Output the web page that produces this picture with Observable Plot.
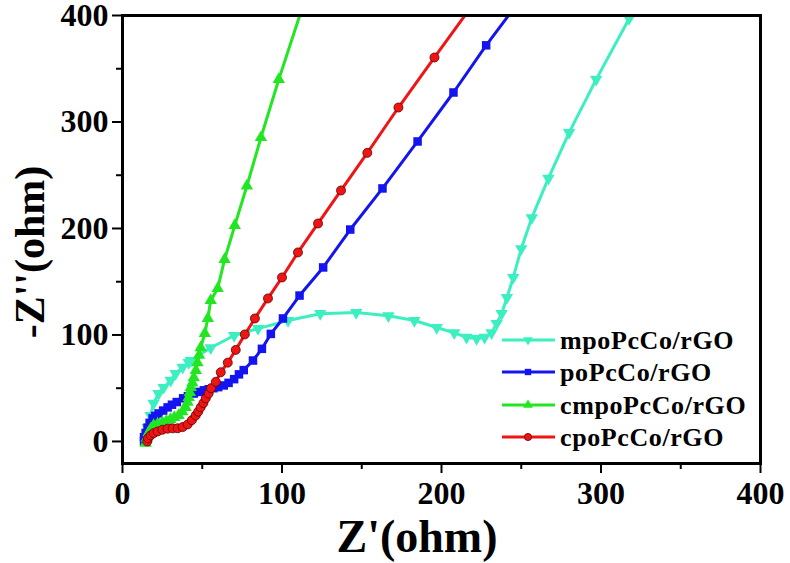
<!DOCTYPE html>
<html><head><meta charset="utf-8">
<script src="https://cdn.jsdelivr.net/npm/d3@7"></script>
<script src="https://cdn.jsdelivr.net/npm/@observablehq/plot@0.6"></script>
<style>body{margin:0;background:#fff} #chart svg{display:block}</style>
</head><body><div id="chart"></div>
<script>
const seriesNames = ["mpoPcCo/rGO", "poPcCo/rGO", "cmpoPcCo/rGO", "cpoPcCo/rGO"];
const seriesColors = ["#3cefc0", "#1414f0", "#22e622", "#f01414"];

const mpoX = [14.5,15.7,17.6,19.5,22.6,25.8,30.2,33.3,37.7,41.5,42.8,55.3,70,85,103.8,124,146.5,166.7,183,197,208,215.7,222,227,231.4,234.6,237.7,241,245,250,256.6,267,280,297,317.6];
const mpoY = [1,13,24.4,35.7,45,50.7,57.3,63.8,69.5,74,76,88,99.5,106,113.6,120,121,118,113.6,107,102,97.7,96.7,97.7,102,110.8,120,135,154,181,210,247,290,340,397];

const poX = [13.5,13.5,14.5,15.7,17,18.9,20.5,22.6,25.5,28.3,31,34,38,41,44.7,48,51,54,57,60,63.5,66.5,70,73,76,81.8,87.4,93,100.6,111,125.8,142.8,163,185,207.5,228,248];
const poY = [0,4,8,13,17.5,21.6,24,26.3,29,32,34.5,37,40.5,42.5,45,46.5,48,49,50,51,52.6,55,58.5,63,67,76,87,101,115.5,137,163.4,199,237.6,281.7,327.7,372,412];

const cmpoX = [14.5,15.2,16.4,17.8,19.5,22,25,27.5,30,32.5,35.2,37.5,39.6,40.8,41.5,42.2,42.8,43.8,44.7,46,47,48,49,51.6,53.5,55.3,59.7,64,70.4,78,86.8,98,112];
const cmpoY = [-1.5,3,8.5,12,15,16.5,17.8,19,20.7,22.5,24.4,28,32,37,41.3,46,50.7,55,60,66.7,74,81,88,101.4,115.5,132.4,143.7,170.9,202.8,240,285.4,340,404];

const cpoX = [15.5,16,17.6,19.5,22,25,28.3,31.5,34.6,37.7,40.9,43.5,45.9,47.5,49,50.7,52.2,54,55.5,58.5,61.6,66,71,76.7,83,91.2,100,110,122.6,137,153.5,173,195.6,219.5];
const cpoY = [0,3,5.6,7.8,9.4,11,12,12.3,12.4,13.5,16,20,24.4,28,32,36,40.4,45,50,56,65,74,86,100.5,115.5,134.3,154,177.5,204.7,235.7,271,313.6,360.6,410];

const xTicks = [0, 100, 200, 300, 400];
const xMinor = [50, 150, 250, 350];
const yTicks = [0, 100, 200, 300, 400];
const yMinor = [50, 150, 250, 350];
const xTitle = "Z'(ohm)";
const yTitle = "-Z''(ohm)";

const toRows = (xs, ys, name) => xs.map((x, i) => ({series: name, x, y: ys[i]}));
const mpo = toRows(mpoX, mpoY, seriesNames[0]);
const po = toRows(poX, poY, seriesNames[1]);
const cmpo = toRows(cmpoX, cmpoY, seriesNames[2]);
const cpo = toRows(cpoX, cpoY, seriesNames[3]);

const sqrt3 = Math.sqrt(3);
const triDown = {
  draw(context, size) {
    const y = -Math.sqrt(size / (sqrt3 * 3));
    context.moveTo(0, -y * 2);
    context.lineTo(-sqrt3 * y, y);
    context.lineTo(sqrt3 * y, y);
    context.closePath();
  }
};
const symbols = [triDown, "square", "triangle", "circle"];
const sizes = [4.6, 4.8, 4.6, 4.5];

const fontFam = "'Liberation Serif', 'Times New Roman', serif";
const datasets = [mpo, po, cmpo, cpo];

const marks = [];
datasets.forEach((d, i) => {
  marks.push(Plot.line(d, {x: "x", y: "y", stroke: seriesColors[i], strokeWidth: 3, clip: true}));
  marks.push(Plot.dot(d, {x: "x", y: "y", symbol: symbols[i], r: sizes[i], fill: seriesColors[i],
    stroke: i === 3 ? "#5a0000" : "none", strokeWidth: i === 3 ? 0.8 : 0, clip: true}));
});

const plot = Plot.plot({
  width: 790, height: 563,
  marginLeft: 122, marginRight: 30, marginTop: 15, marginBottom: 100,
  x: {domain: [0, 400]},
  y: {domain: [-20.7, 400]},
  style: {fontFamily: fontFam, background: "white", color: "black"},
  marks: [
    ...marks,
    Plot.axisX({ticks: xTicks, tickSize: 10, tickPadding: 8, fontSize: 32, fontWeight: "bold", label: null, strokeWidth: 2, tickFormat: d => String(d)}),
    Plot.axisX({ticks: xMinor, tickSize: 6, label: null, strokeWidth: 2, tickFormat: () => ""}),
    Plot.axisY({ticks: yTicks, tickSize: 10, tickPadding: 4, fontSize: 32, fontWeight: "bold", label: null, strokeWidth: 2, tickFormat: d => String(d)}),
    Plot.axisY({ticks: yMinor, tickSize: 6, label: null, strokeWidth: 2, tickFormat: () => ""}),
    Plot.frame({stroke: "black", strokeWidth: 3})
  ]
});

const svg = d3.select(plot);
svg.append("text").attr("x", 417).attr("y", 552).attr("text-anchor", "middle")
  .attr("font-family", fontFam).attr("font-weight", "bold").attr("font-size", 46).text(xTitle);
svg.append("text").attr("transform", "translate(44,252) rotate(-90)").attr("text-anchor", "middle")
  .attr("font-family", fontFam).attr("font-weight", "bold").attr("font-size", 42).text(yTitle);

const leg = svg.append("g");
const rowY = [340, 372, 405, 437];
seriesNames.forEach((name, i) => {
  const g = leg.append("g").attr("transform", `translate(0,${rowY[i]})`);
  g.append("line").attr("x1", 502).attr("x2", 555).attr("y1", 0).attr("y2", 0)
    .attr("stroke", seriesColors[i]).attr("stroke-width", 3);
  const sym = typeof symbols[i] === "string" ? {circle: d3.symbolCircle, square: d3.symbolSquare, triangle: d3.symbolTriangle}[symbols[i]] : symbols[i];
  g.append("path").attr("transform", "translate(528,0)")
    .attr("d", d3.symbol(sym, 3.6 * 3.6 * Math.PI)())
    .attr("fill", seriesColors[i]).attr("stroke", i === 3 ? "#5a0000" : "none").attr("stroke-width", 0.8);
  g.append("text").attr("x", 560).attr("y", 0).attr("dy", "0.35em").attr("text-anchor", "start")
    .attr("font-family", fontFam).attr("font-weight", "bold").attr("font-size", 26).attr("letter-spacing", 0.6).text(name);
});

document.getElementById("chart").appendChild(plot);
</script>
</body></html>
